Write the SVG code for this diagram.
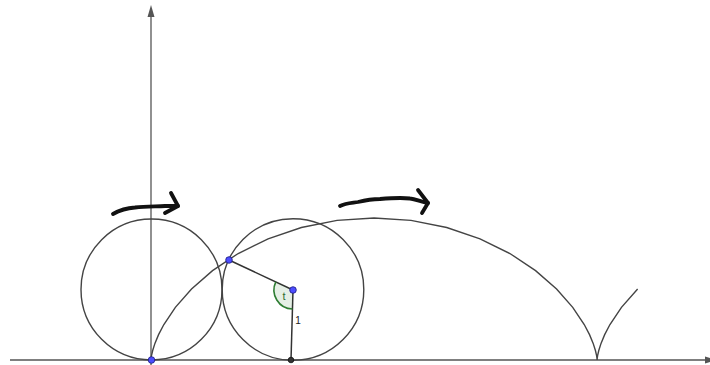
<svg xmlns="http://www.w3.org/2000/svg" width="710" height="365" viewBox="0 0 710 365">
<style>
.axis{stroke:#555;stroke-width:1.3;fill:none}
.curve{stroke:#444;stroke-width:1.4;fill:none}
.seg{stroke:#333;stroke-width:1.5;fill:none}
.hand{stroke:#111;stroke-width:3.8;fill:none;stroke-linecap:round;stroke-linejoin:round}
.bpt{fill:#4d4dff;stroke:#1a1a80;stroke-width:0.8}
.kpt{fill:#333;stroke:#111;stroke-width:0.8}
text{font-family:"Liberation Sans",Arial,sans-serif}
</style>
<rect width="710" height="365" fill="#fff"/>
<g id="axes">
  <line class="axis" x1="151" y1="365" x2="151" y2="12"/>
  <polygon points="151,5 147.5,17 154.5,17" fill="#555"/>
  <line class="axis" x1="10" y1="360" x2="708" y2="360"/>
  <polygon points="717,360 705,356.5 705,363.5" fill="#555"/>
</g>
<g id="circle1"><circle class="curve" cx="151.5" cy="289.5" r="70.5"/></g>
<g id="circle2"><circle class="curve" cx="293" cy="289.5" r="70.8"/></g>
<g id="cycloid">
  <polyline class="curve" points="151,360 151.01,359.73 151.06,358.92 151.21,357.58 151.5,355.72 152.68,350.49 154.93,343.39 158.57,334.64 163.86,324.5 175.36,307.38 191.53,289 212.53,270.62 238.21,253.5 268.08,238.8 301.38,227.51 337.09,220.42 374.05,218 411.01,220.42 446.72,227.51 480.02,238.8 509.89,253.5 535.57,270.62 556.57,289 572.74,307.38 584.24,324.5 589.53,334.64 593.17,343.39 595.42,350.49 596.6,355.72 596.89,357.58 597.04,358.92 597.09,359.73 597.1,360 597.11,359.73 597.16,358.92 597.31,357.58 597.6,355.72 598.78,350.49 601.03,343.39 604.67,334.64 609.96,324.5 621.46,307.38 637.63,289"/>
</g>
<g id="connectors">
  <line class="seg" x1="229" y1="260" x2="293" y2="290"/>
  <line class="seg" x1="293" y1="290" x2="291" y2="360"/>
</g>
<g id="angle">
  <path d="M293,290 L275.8,281.9 A19,19 0 0 0 292.46,309 Z" fill="#006400" fill-opacity="0.1" stroke="none"/>
  <path d="M275.8,281.9 A19,19 0 0 0 292.46,309" fill="none" stroke="#2e7d32" stroke-width="1.6"/>
  <text x="284" y="300" font-size="11" fill="#2e6b2e" text-anchor="middle">t</text>
</g>
<g id="label1"><text x="298" y="324" font-size="10" fill="#222" text-anchor="middle">1</text></g>
<g id="points">
  <circle class="bpt" cx="151.5" cy="360" r="3.3"/>
  <circle class="bpt" cx="229" cy="260" r="3.3"/>
  <circle class="bpt" cx="293" cy="290" r="3.3"/>
  <circle class="kpt" cx="291" cy="360" r="2.8"/>
</g>
<g id="arrow1">
  <path class="hand" d="M113,214 C120,210 127,208 135,207.5 C145,206 155,206.5 165,206 L178,206"/>
  <path class="hand" d="M171,193 L178,206 L165,213"/>
</g>
<g id="arrow2">
  <path class="hand" d="M340,206 C346,203 352,203 358,202 C366,200 372,199 380,199 C392,198 402,197.5 410,198.5 C416,199 421,202 428,203"/>
  <path class="hand" d="M418,190 L428,203 L422,213"/>
</g>
</svg>
